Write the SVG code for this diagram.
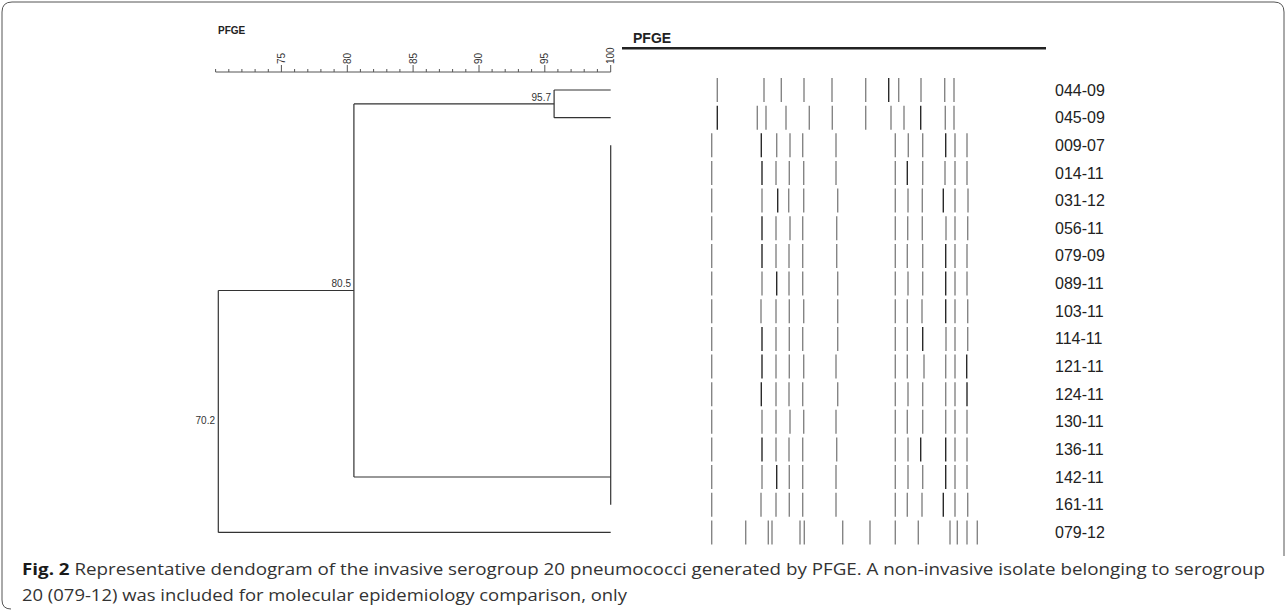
<svg xmlns="http://www.w3.org/2000/svg" width="1287" height="611" viewBox="0 0 1287 611">
<style>
.lab{font-family:"Liberation Sans",Arial,sans-serif;font-size:16px;fill:#222}
.sc{font-family:"Liberation Sans",Arial,sans-serif;font-size:10px;fill:#333}
.nd{font-family:"Liberation Sans",Arial,sans-serif;font-size:10px;fill:#333;text-anchor:end}
.b{stroke:#858585;stroke-width:1.4}
.d{stroke:#2a2a2a;stroke-width:1.4}
.dl{stroke:#333;stroke-width:1.2;fill:none}
.cap{font-family:"Open Sans","Noto Sans",sans-serif;font-size:16.5px;fill:#333}
</style>
<path d="M1284 556 L1284 12 Q1284 2 1274 2 L12 2 Q2 2 2 12 L2 600 Q2 609 11 609" fill="none" stroke="#555" stroke-width="1"/>
<text x="218" y="34" font-family="Liberation Sans,Arial,sans-serif" font-size="10" font-weight="bold" fill="#222">PFGE</text>
<text x="633" y="43" font-family="Liberation Sans,Arial,sans-serif" font-size="14" font-weight="bold" fill="#222">PFGE</text>
<line x1="622" y1="48.3" x2="1046" y2="48.3" stroke="#222" stroke-width="2.4"/>
<g id="scale" stroke="#555" stroke-width="1">
<line x1="215.6" y1="72" x2="610.7" y2="72"/>
<path d="M228.8 72v-3M241.9 72v-3M255.1 72v-3M268.3 72v-3M294.6 72v-3M307.8 72v-3M320.9 72v-3M334.1 72v-3M360.4 72v-3M373.6 72v-3M386.8 72v-3M399.9 72v-3M426.3 72v-3M439.4 72v-3M452.6 72v-3M465.8 72v-3M492.1 72v-3M505.2 72v-3M518.4 72v-3M531.6 72v-3M557.9 72v-3M571.1 72v-3M584.2 72v-3M597.4 72v-3M215.6 72v-3"/>
<path d="M281.4 72v-7M347.3 72v-7M413.1 72v-7M479 72v-7M544.8 72v-7M610.7 72v-7"/>
</g>
<g id="scale-labels" class="sc">
<text transform="translate(284.8 64) rotate(-90)">75</text>
<text transform="translate(350.7 64) rotate(-90)">80</text>
<text transform="translate(416.5 64) rotate(-90)">85</text>
<text transform="translate(482.4 64) rotate(-90)">90</text>
<text transform="translate(548.2 64) rotate(-90)">95</text>
<text transform="translate(614.1 64) rotate(-90)">100</text>
</g>
<g id="connectors" class="dl">
<path d="M554.1 90 H610.7 M554.1 117.7 H610.7 M554.1 90 V117.7"/>
<path d="M610.7 145.3 V504.8"/>
<path d="M353.9 103.9 H554.1 M353.9 103.9 V477 M353.9 477 H610.7"/>
<path d="M218.3 290.5 H353.9 M218.3 290.5 V532.4 M218.3 532.4 H610.7"/>
</g>
<g id="node-labels" class="nd">
<text x="551" y="100.5">95.7</text>
<text x="351" y="287">80.5</text>
<text x="215" y="424">70.2</text>
</g>
<g id="r0"><path class="b" d="M717.3 78v24M764 78v24M781.3 78v24M804 78v24M832 78v24M865.7 78v24M898.7 78v24M921 78v24M944.7 78v24M954 78v24"/><path class="d" d="M888.7 78v24"/><text class="lab" x="1055" y="95.5">044-09</text></g>
<g id="r1"><path class="b" d="M757.3 105.7v24M766 105.7v24M786 105.7v24M809.3 105.7v24M832.3 105.7v24M865.7 105.7v24M891 105.7v24M904 105.7v24M945.3 105.7v24M954 105.7v24"/><path class="d" d="M717.3 105.7v24M920.7 105.7v24"/><text class="lab" x="1055" y="123.2">045-09</text></g>
<g id="r2"><path class="b" d="M711.7 133.3v24M776.7 133.3v24M790 133.3v24M802.7 133.3v24M836 133.3v24M895.3 133.3v24M908.3 133.3v24M922.7 133.3v24M955 133.3v24M967 133.3v24"/><path class="d" d="M761.3 133.3v24M945.7 133.3v24"/><text class="lab" x="1055" y="150.8">009-07</text></g>
<g id="r3"><path class="b" d="M711.7 161v24M776 161v24M789.3 161v24M803.7 161v24M836 161v24M895.3 161v24M922.7 161v24M945 161v24M955 161v24M967 161v24"/><path class="d" d="M762 161v24M907.3 161v24"/><text class="lab" x="1055" y="178.5">014-11</text></g>
<g id="r4"><path class="b" d="M711.7 188.6v24M762 188.6v24M788.7 188.6v24M803.7 188.6v24M837.7 188.6v24M895.3 188.6v24M908 188.6v24M922.3 188.6v24M955 188.6v24M968 188.6v24"/><path class="d" d="M777.7 188.6v24M943.3 188.6v24"/><text class="lab" x="1055" y="206.1">031-12</text></g>
<g id="r5"><path class="b" d="M711.7 216.3v24M776 216.3v24M790 216.3v24M802.7 216.3v24M836.7 216.3v24M895.3 216.3v24M907.7 216.3v24M922.3 216.3v24M946 216.3v24M955 216.3v24M967.7 216.3v24"/><path class="d" d="M762 216.3v24"/><text class="lab" x="1055" y="233.8">056-11</text></g>
<g id="r6"><path class="b" d="M711.7 243.9v24M776 243.9v24M789 243.9v24M802.7 243.9v24M836.7 243.9v24M895.3 243.9v24M907.3 243.9v24M922.7 243.9v24M955 243.9v24M967 243.9v24"/><path class="d" d="M762 243.9v24M945.7 243.9v24"/><text class="lab" x="1055" y="261.4">079-09</text></g>
<g id="r7"><path class="b" d="M711.7 271.6v24M762 271.6v24M789 271.6v24M802.7 271.6v24M837.7 271.6v24M895.3 271.6v24M908 271.6v24M922.7 271.6v24M955 271.6v24M967 271.6v24"/><path class="d" d="M776.7 271.6v24M945.7 271.6v24"/><text class="lab" x="1055" y="289.1">089-11</text></g>
<g id="r8"><path class="b" d="M711.7 299.2v24M761 299.2v24M776 299.2v24M789.3 299.2v24M803.7 299.2v24M837.7 299.2v24M895.3 299.2v24M907.3 299.2v24M922 299.2v24M955 299.2v24M967.7 299.2v24"/><path class="d" d="M945.7 299.2v24"/><text class="lab" x="1055" y="316.7">103-11</text></g>
<g id="r9"><path class="b" d="M711.7 326.9v24M776 326.9v24M789.3 326.9v24M802.7 326.9v24M837.7 326.9v24M895.3 326.9v24M907.3 326.9v24M946 326.9v24M955 326.9v24M967.7 326.9v24"/><path class="d" d="M762 326.9v24M922.7 326.9v24"/><text class="lab" x="1055" y="344.4">114-11</text></g>
<g id="r10"><path class="b" d="M711.7 354.5v24M776 354.5v24M789.3 354.5v24M803.7 354.5v24M836 354.5v24M895.3 354.5v24M907.3 354.5v24M924 354.5v24M945.7 354.5v24M955 354.5v24"/><path class="d" d="M762 354.5v24M966.7 354.5v24"/><text class="lab" x="1055" y="372">121-11</text></g>
<g id="r11"><path class="b" d="M711.7 382.2v24M776 382.2v24M789 382.2v24M802.7 382.2v24M837.7 382.2v24M895.3 382.2v24M908 382.2v24M922.7 382.2v24M945.7 382.2v24M955 382.2v24"/><path class="d" d="M761.3 382.2v24M967 382.2v24"/><text class="lab" x="1055" y="399.7">124-11</text></g>
<g id="r12"><path class="b" d="M711.7 409.8v24M762 409.8v24M776 409.8v24M790 409.8v24M803.7 409.8v24M836 409.8v24M895.3 409.8v24M907.3 409.8v24M922.7 409.8v24M945.7 409.8v24M955 409.8v24M967 409.8v24"/><text class="lab" x="1055" y="427.3">130-11</text></g>
<g id="r13"><path class="b" d="M711.7 437.5v24M776 437.5v24M789 437.5v24M802.7 437.5v24M836.7 437.5v24M895.3 437.5v24M908 437.5v24M955 437.5v24M967 437.5v24"/><path class="d" d="M762 437.5v24M920.7 437.5v24M945.7 437.5v24"/><text class="lab" x="1055" y="455">136-11</text></g>
<g id="r14"><path class="b" d="M711.7 465.1v24M762 465.1v24M789.3 465.1v24M802.7 465.1v24M836 465.1v24M895.3 465.1v24M908 465.1v24M922.7 465.1v24M955 465.1v24M967 465.1v24"/><path class="d" d="M776.7 465.1v24M945.7 465.1v24"/><text class="lab" x="1055" y="482.6">142-11</text></g>
<g id="r15"><path class="b" d="M711.7 492.8v24M761 492.8v24M776 492.8v24M789.3 492.8v24M802.7 492.8v24M836 492.8v24M895.3 492.8v24M907.3 492.8v24M922 492.8v24M955 492.8v24M967.7 492.8v24"/><path class="d" d="M943.3 492.8v24"/><text class="lab" x="1055" y="510.3">161-11</text></g>
<g id="r16"><path class="b" d="M711.7 520.4v24M745.7 520.4v24M768.3 520.4v24M772 520.4v24M800 520.4v24M804.3 520.4v24M842.7 520.4v24M870 520.4v24M895.3 520.4v24M918.3 520.4v24M950 520.4v24M957.3 520.4v24M967 520.4v24M977.3 520.4v24"/><text class="lab" x="1055" y="537.9">079-12</text></g>
<g id="caption" class="cap">
<text x="22" y="575" textLength="1243" lengthAdjust="spacingAndGlyphs"><tspan font-weight="bold" fill="#1a1a1a">Fig. 2</tspan> Representative dendogram of the invasive serogroup 20 pneumococci generated by PFGE. A non-invasive isolate belonging to serogroup</text>
<text x="22" y="601" textLength="605" lengthAdjust="spacingAndGlyphs">20 (079-12) was included for molecular epidemiology comparison, only</text>
</g>
</svg>
